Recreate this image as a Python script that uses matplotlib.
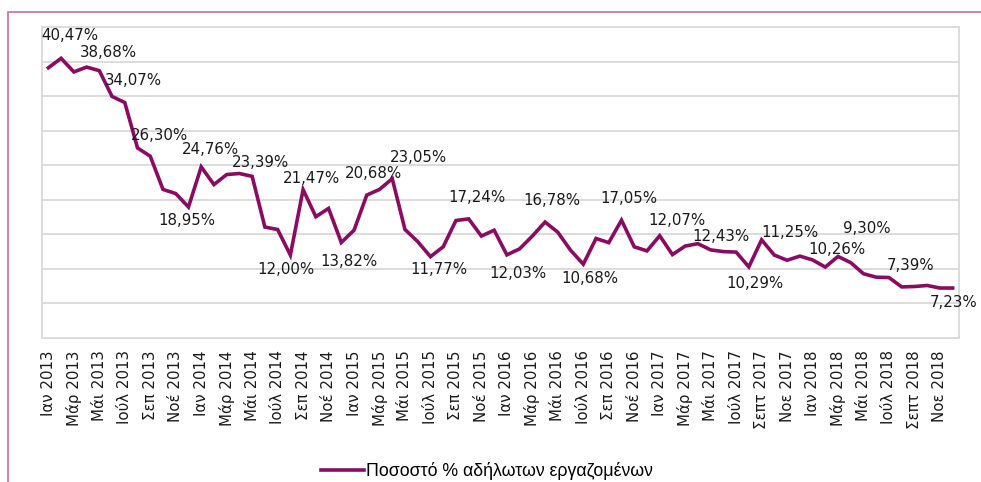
import matplotlib
matplotlib.use("Agg")
import matplotlib.pyplot as plt
from matplotlib.patches import Rectangle

# Ποσοστό αδήλωτων εργαζομένων, μηνιαία, Ιαν 2013 - Δεκ 2018
rates = [
    39.10, 40.47, 38.50, 39.20, 38.68, 34.95, 34.07, 27.50, 26.30, 21.50, 20.90, 18.95,  # 2013
    24.76, 22.20, 23.65, 23.80, 23.39, 16.05, 15.70, 12.00, 21.47, 17.55, 18.75, 13.82,  # 2014
    15.60, 20.68, 21.50, 23.05, 15.70, 13.95, 11.77, 13.20, 17.00, 17.24, 14.75, 15.60,  # 2015
    12.03, 12.90, 14.75, 16.78, 15.30, 12.70, 10.68, 14.40, 13.80, 17.05, 13.20, 12.60,  # 2016
    14.80, 12.07, 13.30, 13.65, 12.75, 12.50, 12.43, 10.29, 14.20, 12.00, 11.25, 11.85,  # 2017
    11.30, 10.26, 11.80, 10.90, 9.30, 8.80, 8.75, 7.39, 7.45, 7.60, 7.23, 7.23,          # 2018
]

tick_labels = [
    "Ιαν 2013", "Μάρ 2013", "Μάι 2013", "Ιούλ 2013", "Σεπ 2013", "Νοέ 2013",
    "Ιαν 2014", "Μάρ 2014", "Μάι 2014", "Ιούλ 2014", "Σεπ 2014", "Νοέ 2014",
    "Ιαν 2015", "Μάρ 2015", "Μάι 2015", "Ιούλ 2015", "Σεπ 2015", "Νοέ 2015",
    "Ιαν 2016", "Μάρ 2016", "Μάι 2016", "Ιούλ 2016", "Σεπ 2016", "Νοέ 2016",
    "Ιαν 2017", "Μάρ 2017", "Μάι 2017", "Ιούλ 2017", "Σεπτ 2017", "Νοε 2017",
    "Ιαν 2018", "Μάρ 2018", "Μάι 2018", "Ιούλ 2018", "Σεπτ 2018", "Νοε 2018",
]

# μήνες με ετικέτα τιμής
labelled = [1, 4, 6, 8, 11, 12, 16, 19, 20, 23, 25, 27, 30, 33, 36, 39, 42,
            45, 49, 54, 55, 58, 61, 64, 67, 70]
# μετατόπιση ετικετών (pixels, x δεξιά / y πάνω)
label_offsets = [(9, 23), (9, 18), (9, 22), (9, 21), (-2, -13), (9, 17), (8, 14),
                 (-4, -14), (8, 11), (8, -19), (7, 22), (26, 21), (8, -13), (8, 21),
                 (11, -19), (7, 22), (7, -14), (7, 22), (4, 34), (-15, 16), (6, -17),
                 (3, 28), (12, 18), (3, 45), (9, 21), (14, -14)]

series_name = "Ποσοστό % αδήλωτων εργαζομένων"

line_color = "#8C0B62"
grid_color = "#D9D9D9"

fig = plt.figure(figsize=(9.81, 4.82), dpi=100)
ax = fig.add_axes([42 / 981, 1 - 338 / 482, 917 / 981, 311 / 482])

months = list(range(len(rates)))
ax.plot(months, rates, color=line_color, lw=2.6, solid_joinstyle="miter",
        label=series_name, zorder=3)

for i, (dx, dy) in zip(labelled, label_offsets):
    txt = f"{rates[i]:.2f}".replace(".", ",") + "%"
    ax.annotate(txt, xy=(i, rates[i]), xytext=(dx, dy), textcoords="offset pixels",
                ha="center", va="center", fontsize=10.8, color="#1a1a1a")

ax.set_xlim(-0.5, len(rates) - 0.5)
ax.set_ylim(0, 45)
ax.set_yticks(range(5, 45, 5))
ax.set_yticklabels([])
ax.tick_params(axis="y", length=0)
ax.grid(axis="y", color=grid_color, lw=1.3)
ax.set_axisbelow(True)

ax.set_xticks(months[::2])
ax.set_xticklabels(tick_labels, rotation=90, fontsize=10.8, color="#1a1a1a")
ax.tick_params(axis="x", length=0, pad=9)

for s in ax.spines.values():
    s.set_color(grid_color)
    s.set_linewidth(1.3)

fig.legend(loc="center", bbox_to_anchor=(0.4965, 0.023), frameon=False,
           handlelength=2.4, handletextpad=0.1,
           prop={"family": ["Liberation Sans", "DejaVu Sans"], "size": 12.8})

# πλαίσιο γύρω από το γράφημα
fig.patches.append(Rectangle((8.3 / 981, -0.05), 1.1, 0.05 + 1 - 12.3 / 482,
                             transform=fig.transFigure, fill=False,
                             edgecolor="#C76BA6", lw=1.2))

fig.savefig("out.png", dpi=100)
